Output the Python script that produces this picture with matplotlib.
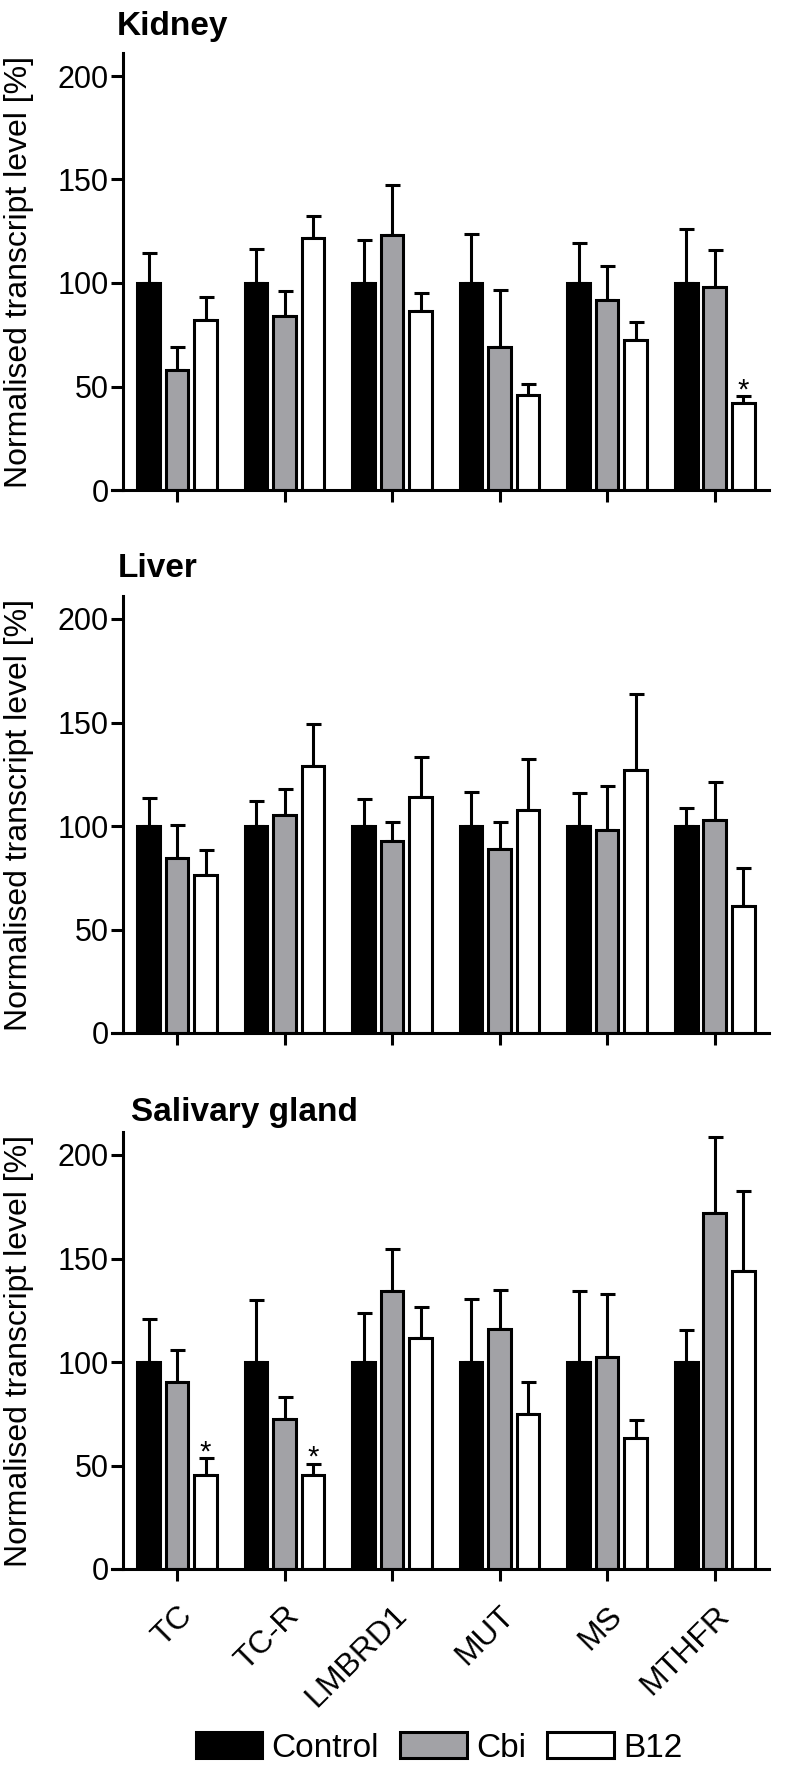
import numpy as np
import matplotlib
matplotlib.use("Agg")
import matplotlib.pyplot as plt
from matplotlib.patches import Patch

plt.rcParams["font.family"] = ["Liberation Sans", "DejaVu Sans"]

genes = ["TC", "TC-R", "LMBRD1", "MUT", "MS", "MTHFR"]
groups = ["Control", "Cbi", "B12"]

# Kidney (mean, upper SEM)
kidney_control = [100, 100, 100, 100, 100, 100]
kidney_control_err = [14.7, 16.3, 20.8, 23.6, 19.2, 26.3]
kidney_cbi = [57.9, 84.2, 123.1, 69.2, 91.7, 98.3]
kidney_cbi_err = [11.3, 12.0, 24.1, 27.5, 16.3, 17.7]
kidney_b12 = [82.2, 121.5, 86.4, 46.0, 72.7, 42.0]
kidney_b12_err = [11.1, 10.9, 9.0, 5.2, 8.7, 3.4]
kidney_stars = ["MTHFR"]

# Liver
liver_control = [100, 100, 100, 100, 100, 100]
liver_control_err = [13.5, 12.2, 13.0, 16.6, 15.8, 8.9]
liver_cbi = [84.4, 105.5, 92.8, 89.0, 97.9, 102.7]
liver_cbi_err = [15.9, 12.3, 9.3, 12.9, 21.6, 18.5]
liver_b12 = [76.2, 128.9, 114.0, 107.9, 127.1, 61.3]
liver_b12_err = [12.2, 20.4, 19.2, 24.3, 36.6, 18.3]
liver_stars = []

# Salivary gland
saliva_control = [100, 100, 100, 100, 100, 100]
saliva_control_err = [20.7, 30.0, 23.9, 30.4, 34.1, 15.5]
saliva_cbi = [90.1, 72.4, 134.1, 116.0, 102.4, 171.8]
saliva_cbi_err = [15.7, 10.8, 20.6, 18.7, 30.4, 36.8]
saliva_b12 = [45.3, 45.3, 111.4, 74.8, 63.1, 144.0]
saliva_b12_err = [8.1, 5.6, 15.3, 15.3, 8.7, 38.8]
saliva_stars = ["TC", "TC-R"]

W, H = 788, 1771
colors = ["black", "#a2a2a6", "white"]
LW = 2.2

fig = plt.figure(figsize=(W / 100, H / 100), dpi=100)

panels = [
    ("Kidney", 490, 117, 35,
     [kidney_control, kidney_cbi, kidney_b12],
     [kidney_control_err, kidney_cbi_err, kidney_b12_err], kidney_stars),
    ("Liver", 1033, 118, 577,
     [liver_control, liver_cbi, liver_b12],
     [liver_control_err, liver_cbi_err, liver_b12_err], liver_stars),
    ("Salivary gland", 1569, 131, 1121,
     [saliva_control, saliva_cbi, saliva_b12],
     [saliva_control_err, saliva_cbi_err, saliva_b12_err], saliva_stars),
]

px_per_unit = 2.07
ymax = 211
x = np.arange(len(genes))
offsets = [-0.265, 0, 0.265]
width = 0.21
ax_left, ax_width = 112.5, 656

for i, (title, y0, tx, tbase, means, errs, stars) in enumerate(panels):
    ax = fig.add_axes([ax_left / W, 1 - y0 / H, ax_width / W, ymax * px_per_unit / H])
    for k in range(3):
        ax.errorbar(x + offsets[k], means[k], yerr=[np.zeros(len(genes)), errs[k]],
                    fmt="none", ecolor="black", elinewidth=LW, capsize=5.4,
                    capthick=LW, zorder=1)
        ax.bar(x + offsets[k], means[k], width, color=colors[k],
               edgecolor="black", linewidth=LW, zorder=2)
    for g in stars:
        j = genes.index(g)
        top = means[2][j] + errs[2][j]
        ax.text(x[j] + offsets[2], top - 1, "*", ha="center", va="baseline",
                fontsize=21)

    ax.set_xlim(-0.6, 5.5)
    ax.set_ylim(0, ymax)
    ax.spines["top"].set_visible(False)
    ax.spines["right"].set_visible(False)
    ax.spines["left"].set_position(("data", -0.5))
    ax.spines["left"].set_linewidth(LW)
    ax.spines["bottom"].set_linewidth(LW)
    ax.set_yticks([0, 50, 100, 150, 200])
    ax.set_xticks(x)
    ax.tick_params(axis="both", direction="out", length=8.6, width=LW,
                   labelsize=22)
    ax.tick_params(axis="y", pad=2)
    if i == 2:
        ax.set_xticklabels(genes, rotation=45, ha="right", va="top",
                           rotation_mode="anchor", fontsize=23)
        ax.tick_params(axis="x", pad=14)
    else:
        ax.set_xticklabels([])
    ax.set_ylabel("Normalised transcript level [%]", fontsize=23)
    ax.yaxis.set_label_coords((34 - ax_left) / ax_width, 0.5)
    fig.text(tx / W, 1 - tbase / H, title, fontsize=24, fontweight="bold",
             ha="left", va="baseline")

handles = [Patch(facecolor=c, edgecolor="black", linewidth=LW) for c in colors]
fig.legend(handles, groups, loc="center", bbox_to_anchor=(439 / W, 1 - 1748 / H),
           ncol=3, frameon=False, fontsize=24, handlelength=2.0,
           handleheight=0.82, handletextpad=0.27, columnspacing=0.64,
           borderpad=0)

fig.savefig("out.png", dpi=100)
